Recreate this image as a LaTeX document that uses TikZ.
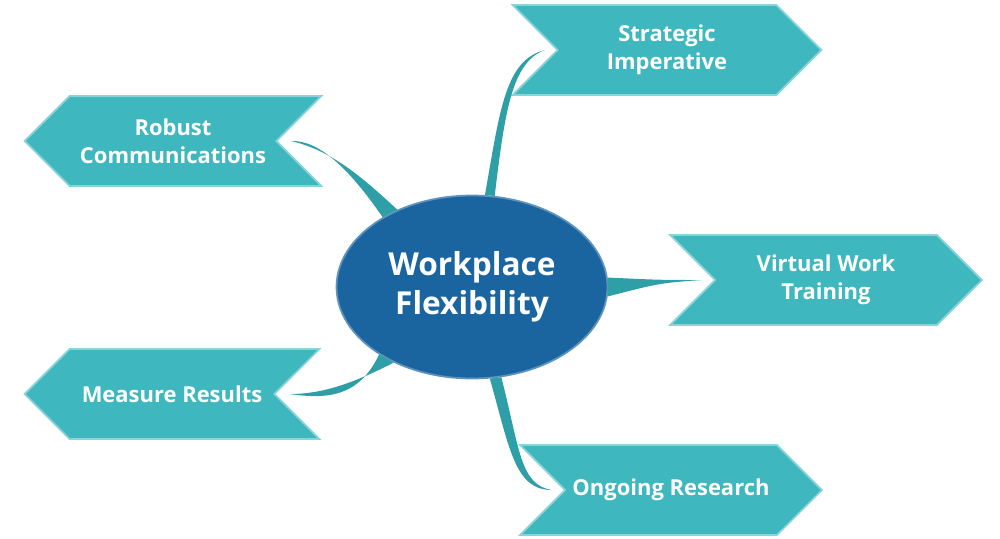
\documentclass[tikz,border=0pt]{standalone}
\usepackage{fontspec}
\setmainfont{Open Sans}
\usetikzlibrary{positioning,calc,shapes.geometric,shapes.symbols}
\definecolor{hubblue}{HTML}{1A65A0}
\definecolor{tealfill}{HTML}{3EB7BF}
\definecolor{tealline}{HTML}{2E9FA6}
\definecolor{tealedge}{HTML}{8AD3D8}

\tikzset{
  hub/.style={ellipse, fill=hubblue, draw=hubblue!70!white, line width=1pt,
    minimum width=5.42cm, minimum height=3.66cm, inner sep=0pt, text=white,
    font=\bfseries\fontsize{18}{22}\selectfont, align=center},
  branch/.style={signal, fill=tealfill, draw=tealedge, line width=1pt,
    minimum height=1.8cm, inner sep=0pt, text=white, align=center,
    font=\bfseries\fontsize{12.5}{16}\selectfont},
  toright/.style={signal to=east, signal from=west},
  toleft/.style={signal to=west, signal from=east},
  stem/.style={fill=tealline}
}

\begin{document}
\begin{tikzpicture}[x=0.02cm,y=-0.02cm]
  \useasboundingbox (0,0) rectangle (1000,538);
  % branches
  \node[branch, toright, minimum width=6.18cm] (si) at (667,50) {Strategic\\Imperative};
  \node[branch, toleft, minimum width=5.94cm] (rc) at (173,141) {Robust\\Communications};
  \node[branch, toright, minimum width=6.24cm] (vw) at (826,280) {Virtual Work\\Training};
  \node[branch, toleft, minimum width=5.90cm] (mr) at (172,394) {Measure Results};
  \node[branch, toright, minimum width=6.04cm] (or) at (671,490) {Ongoing Research};
  % notch points
  \coordinate (siN) at (545,50);
  \coordinate (rcN) at (291,141);
  \coordinate (vwN) at (702,280);
  \coordinate (mrN) at (290,394);
  \coordinate (orN) at (552,490);
  % central idea
  \node[hub] (wf) at (472,287) {Workplace\\Flexibility};
  % tapered stems
  \fill[stem] (wf.82) .. controls (500,110) and (505,60) .. (siN)
    .. controls (512,62) and (505,110) .. (wf.76) -- cycle;
  \fill[stem] (wf.142) .. controls (350,170) and (320,140) .. (rcN)
    .. controls (330,150) and (360,175) .. (wf.134) -- cycle;
  \fill[stem] (wf.4) .. controls (660,280) .. (vwN)
    .. controls (660,283) .. (wf.-4) -- cycle;
  \fill[stem] (wf.-136) .. controls (350,385) and (320,394) .. (mrN)
    .. controls (330,400) and (360,395) .. (wf.-144) -- cycle;
  \fill[stem] (wf.-72) .. controls (520,450) and (520,485) .. (orN)
    .. controls (515,490) and (510,450) .. (wf.-79) -- cycle;
\end{tikzpicture}
\end{document}
